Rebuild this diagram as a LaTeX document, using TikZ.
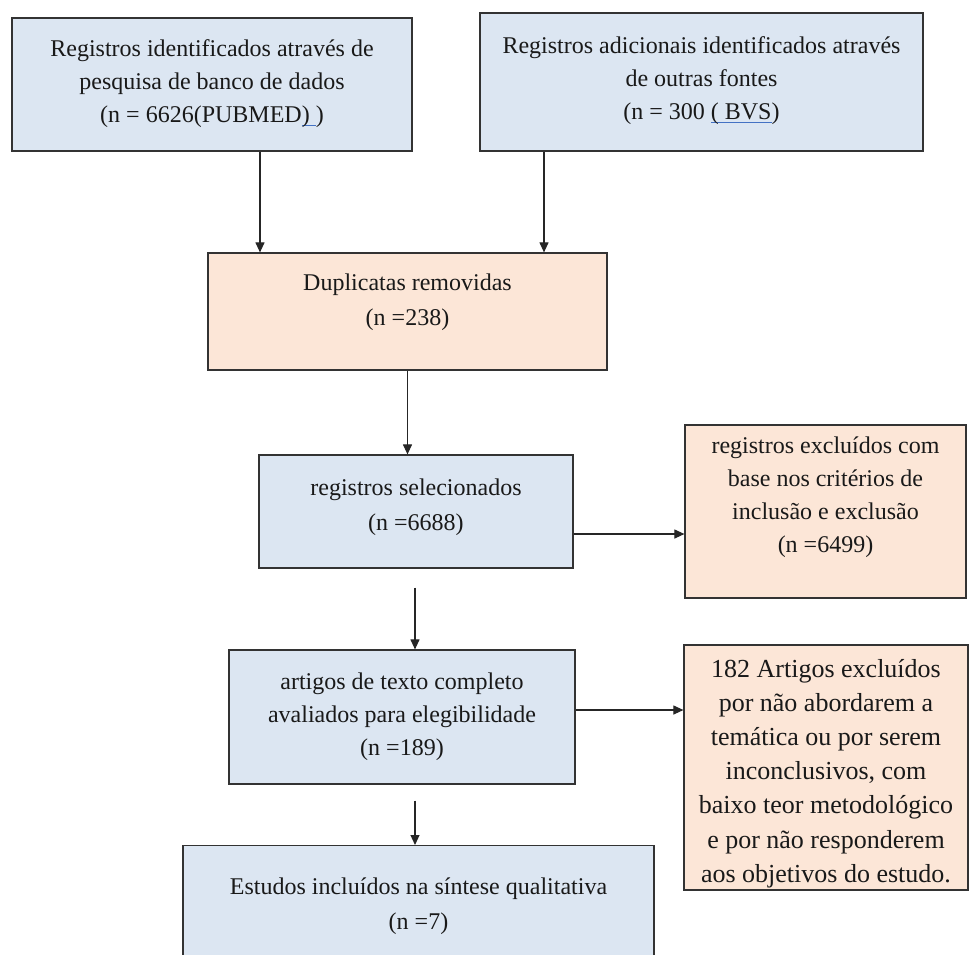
\documentclass[tikz,border=0pt]{standalone}
\usepackage{fontspec}
\setmainfont{Liberation Serif}
\usetikzlibrary{arrows.meta}
\definecolor{bluefill}{HTML}{DCE6F2}
\definecolor{peachfill}{HTML}{FCE6D7}
\definecolor{edgecol}{HTML}{333333}
\definecolor{linkblue}{HTML}{4472C4}
\newsavebox\ulbox
\newcommand\blueul[1]{\sbox\ulbox{#1}\leavevmode\rlap{\textcolor{linkblue}{\rule[-3pt]{\wd\ulbox}{0.9pt}}}\usebox\ulbox}
\tikzset{
  box/.style={draw=edgecol, line width=1.2pt, inner sep=0pt},
  bluebox/.style={box, fill=bluefill},
  peachbox/.style={box, fill=peachfill},
  txt/.style={align=center, inner sep=0pt, text=black!90,
    font=\fontsize{24}{33}\selectfont},
  arr/.style={line width=1.1pt, draw=black!85, -{Triangle[length=10pt,width=9pt]}}
}
\begin{document}
\begin{tikzpicture}[x=1pt,y=-1pt]
\useasboundingbox (0,0) rectangle (971,954);
\clip (0,0) rectangle (971,954);
% boxes
\node[bluebox, minimum width=400pt, minimum height=133pt] (b1) at (212,84.5) {};
\node[bluebox, minimum width=443pt, minimum height=138pt] (b2) at (701.5,82) {};
\node[peachbox, minimum width=399pt, minimum height=117pt] (b3) at (407.5,311.5) {};
\node[bluebox, minimum width=314pt, minimum height=113pt] (b4) at (416,511.5) {};
\node[peachbox, minimum width=281pt, minimum height=173pt] (b5) at (825.5,511.5) {};
\node[bluebox, minimum width=346pt, minimum height=134pt] (b6) at (402,717) {};
\node[peachbox, minimum width=284pt, minimum height=245pt] (b7) at (826,767.5) {};
\node[bluebox, minimum width=471pt, minimum height=150pt, anchor=north] (b8) at (418.5,845) {};
% texts
\node[txt] (t1) at ([yshift=1pt]b1.center)
  {Registros identificados através de\\pesquisa de banco de dados\\(n = 6626(PUBMED\blueul{)\ })};
\node[txt] (t2) at ([yshift=1pt]b2.center)
  {Registros adicionais identificados através\\de outras fontes\\(n = 300 \blueul{( BVS})};
\node[txt, font=\fontsize{24}{35}\selectfont] (t3) at ([yshift=9.5pt]b3.center)
  {Duplicatas removidas\\(n =238)};
\node[txt, font=\fontsize{24}{35}\selectfont] (t4) at ([yshift=4pt]b4.center)
  {registros selecionados\\(n =6688)};
\node[txt] (t5) at ([yshift=14pt]b5.center)
  {registros excluídos com\\base nos critérios de\\inclusão e exclusão\\(n =6499)};
\node[txt] (t6) at ([yshift=0pt]b6.center)
  {artigos de texto completo\\avaliados para elegibilidade\\(n =189)};
\node[txt, font=\fontsize{26}{34.2}\selectfont] (t7) at ([yshift=-6pt]b7.center)
  {182 Artigos excluídos\\por não abordarem a\\temática ou por serem\\inconclusivos, com\\baixo teor metodológico\\e por não responderem\\aos objetivos do estudo.};
\node[txt, font=\fontsize{24}{35}\selectfont] (t8) at ([yshift=-61.5pt]b8.north)
  {Estudos incluídos na síntese qualitativa\\(n =7)};
% connectors
\draw[arr] ([xshift=48pt]b1.south) -- ([xshift=48pt]b1.south |- b3.north);
\draw[arr] ([xshift=-157.5pt]b2.south) -- ([xshift=-157.5pt]b2.south |- b3.north);
\draw[arr] (b3.south) -- (b3.south |- b4.north);
\draw[arr] ([xshift=-1pt, yshift=-19pt]b4.south) -- ([xshift=-1pt]b4.south |- b6.north);
\draw[arr] (b4.east |- 0,534) -- (b5.west |- 0,534);
\draw[arr] (b6.east |- 0,710) -- (b7.west |- 0,710);
\draw[arr] ([xshift=13pt, yshift=-16pt]b6.south) -- ([xshift=13pt]b6.south |- b8.north);
\end{tikzpicture}
\end{document}
